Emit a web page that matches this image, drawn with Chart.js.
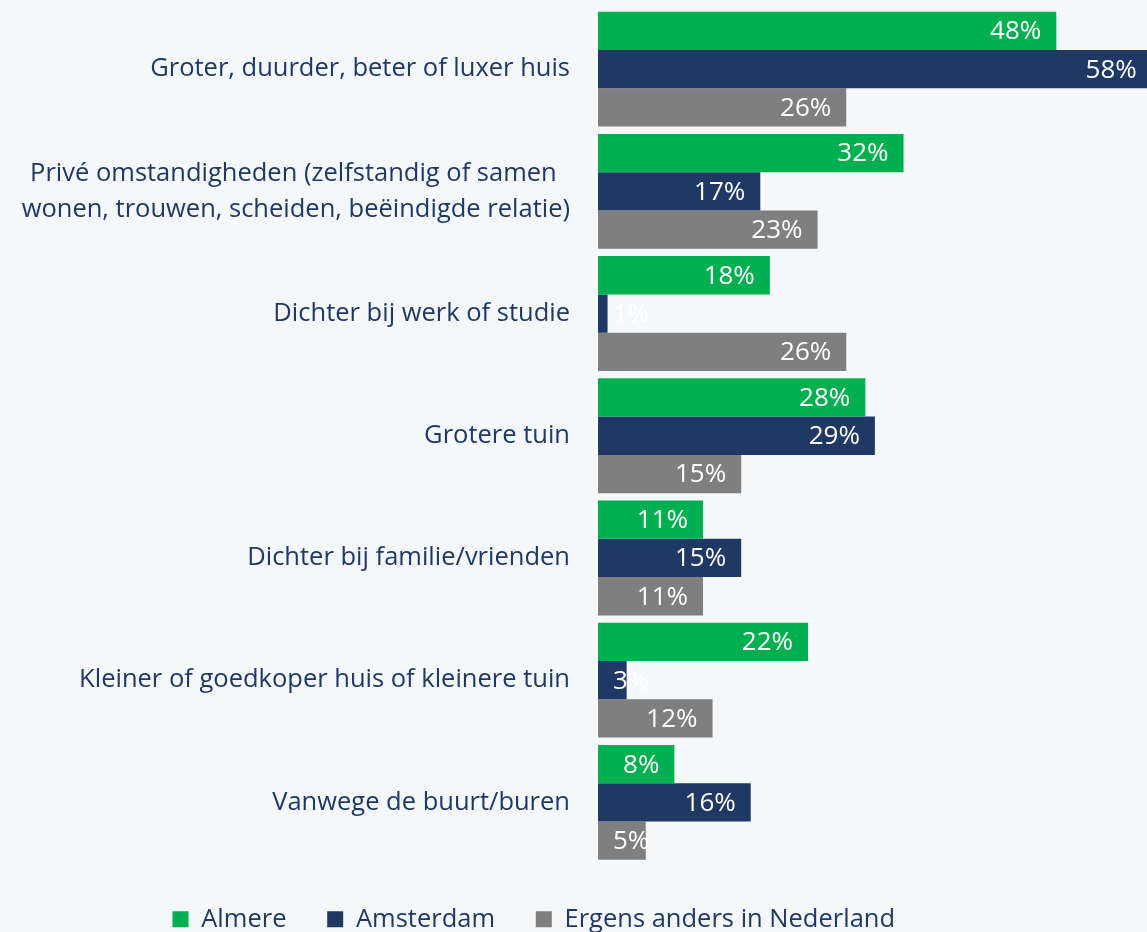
<!DOCTYPE html>
<html>
<head>
<meta charset="utf-8">
<script src="https://cdn.jsdelivr.net/npm/chart.js@4.4.1/dist/chart.umd.min.js"></script>
<style>
  html, body { margin: 0; padding: 0; background: #f4f8fb; }
  #wrap { width: 1147px; height: 932px; position: relative; }
</style>
</head>
<body>
<div id="wrap"><canvas id="c"></canvas></div>
<script>
const categories = [
  "Groter, duurder, beter of luxer huis",
  ["Privé omstandigheden (zelfstandig of samen  ", "wonen, trouwen, scheiden, beëindigde relatie)"],
  "Dichter bij werk of studie",
  "Grotere tuin",
  "Dichter bij familie/vrienden",
  "Kleiner of goedkoper huis of kleinere tuin",
  "Vanwege de buurt/buren"
];
const seriesNames = ["Almere", "Amsterdam", "Ergens anders in Nederland"];
const almere = [48, 32, 18, 28, 11, 22, 8];
const amsterdam = [58, 17, 1, 29, 15, 3, 16];
const ergens = [26, 23, 26, 15, 11, 12, 5];
const colors = ["#00b050", "#203864", "#7f7f7f"];
const navy = "#203864";
const FONT = "'Open Sans', sans-serif";

const bgPlugin = {
  id: 'bg',
  beforeDraw(chart) {
    const ctx = chart.ctx;
    ctx.save();
    ctx.fillStyle = '#f4f8fb';
    ctx.fillRect(0, 0, chart.width, chart.height);
    ctx.restore();
  }
};

const labelPlugin = {
  id: 'barLabels',
  afterDatasetsDraw(chart) {
    const ctx = chart.ctx;
    const left = chart.chartArea.left;
    ctx.save();
    ctx.font = "26px " + FONT;
    ctx.fillStyle = '#ffffff';
    ctx.textAlign = 'right';
    ctx.textBaseline = 'middle';
    chart.data.datasets.forEach((ds, i) => {
      const meta = chart.getDatasetMeta(i);
      meta.data.forEach((bar, j) => {
        const txt = ds.data[j] + '%';
        const w = ctx.measureText(txt).width;
        const x = Math.max(bar.x - 15, left + 15 + w);
        ctx.fillText(txt, x, bar.y + 1);
      });
    });
    ctx.restore();
  }
};

new Chart(document.getElementById('c'), {
  type: 'bar',
  data: {
    labels: categories,
    datasets: [
      { label: seriesNames[0], data: almere, backgroundColor: colors[0] },
      { label: seriesNames[1], data: amsterdam, backgroundColor: colors[1] },
      { label: seriesNames[2], data: ergens, backgroundColor: colors[2] }
    ]
  },
  options: {
    indexAxis: 'y',
    responsive: true,
    maintainAspectRatio: false,
    animation: false,
    datasets: { bar: { categoryPercentage: 0.94, barPercentage: 1.0 } },
    layout: { padding: { top: 8, right: 0, bottom: -10, left: 0 } },
    scales: {
      x: {
        display: true,
        min: 0,
        max: 57.5,
        ticks: { display: false },
        grid: { display: false, drawTicks: false },
        border: { display: false },
        afterFit(scale) { scale.height = 42; }
      },
      y: {
        position: 'left',
        grid: { display: false, drawTicks: true, tickLength: 38 },
        border: { display: true, color: '#ffffff', width: 2 },
        ticks: {
          color: navy,
          padding: -10,
          font: { family: FONT, size: 25.5, lineHeight: 1.41 }
        },
        afterFit(scale) { scale.width = 598; }
      }
    },
    plugins: {
      tooltip: { enabled: false },
      legend: {
        position: 'bottom',
        labels: {
          color: navy,
          boxWidth: 16,
          boxHeight: 16,
          padding: 1,
          font: { family: FONT, size: 25.5, lineHeight: 1.2 },
          generateLabels(chart) {
            const extra = ["      ", "      ", "            "];
            return chart.data.datasets.map((ds, i) => ({
              text: ds.label + extra[i],
              fillStyle: ds.backgroundColor,
              strokeStyle: ds.backgroundColor,
              lineWidth: 0,
              fontColor: navy,
              hidden: false,
              datasetIndex: i
            }));
          }
        }
      }
    }
  },
  plugins: [bgPlugin, labelPlugin]
});
</script>
</body>
</html>
